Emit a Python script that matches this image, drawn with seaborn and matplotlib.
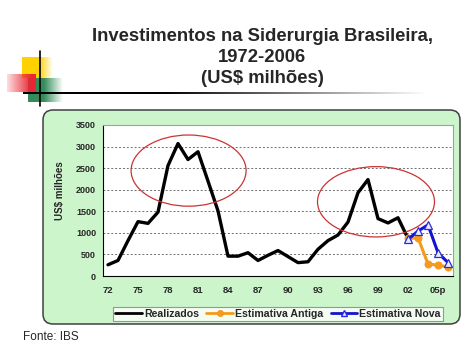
import matplotlib
matplotlib.use("Agg")
import matplotlib.pyplot as plt
import seaborn as sns
import pandas as pd
import numpy as np
from matplotlib.patches import Ellipse, FancyBboxPatch
from matplotlib.lines import Line2D

# categories (years 1972-2006), labels as printed on the slide
anos = ["72", "73", "74", "75", "76", "77", "78", "79", "80", "81", "82",
        "83", "84", "85", "86", "87", "88", "89", "90", "91", "92", "93",
        "94", "95", "96", "97", "98", "99", "00", "01", "02", "03", "04",
        "05p", "06p"]

# investimentos realizados 1972-2002 (US$ milhoes)
realizados = [260, 360, 820, 1260, 1220, 1480, 2560, 3070, 2700, 2880, 2200,
              1510, 460, 460, 540, 360, 480, 590, 450, 310, 330, 620,
              820, 950, 1250, 1930, 2235, 1330, 1230, 1350, 870]

# estimativas 2002-2006
anos_est = ["02", "03", "04", "05p", "06p"]
estimativa_antiga = [870, 885, 280, 250, 210]
estimativa_nova = [850, 1040, 1185, 540, 310]

sns.set_style("white")
plt.rcParams["font.family"] = ["Liberation Sans", "DejaVu Sans"]

idx = {a: i for i, a in enumerate(anos)}
df_real = pd.DataFrame({"x": [idx[a] for a in anos[:len(realizados)]],
                        "valor": realizados})
df_ant = pd.DataFrame({"x": [idx[a] for a in anos_est], "valor": estimativa_antiga})
df_nova = pd.DataFrame({"x": [idx[a] for a in anos_est], "valor": estimativa_nova})

fig = plt.figure(figsize=(4.74, 3.55), dpi=100)

# slide background: decorations + green chart box (pixel coords)
bg = fig.add_axes([0, 0, 1, 1])
bg.set_xlim(0, 474)
bg.set_ylim(355, 0)
bg.axis("off")


def gradient_block(ax, x0, x1, y0, y1, rgb, fade_from=0.6, reverse=False):
    n = 100
    t = np.linspace(0, 1, n)
    if reverse:
        alpha = np.clip(0.15 + t, 0, 1)
    else:
        alpha = np.clip((1 - t) / (1 - fade_from), 0, 1)
    img = np.zeros((1, n, 4))
    img[..., 0], img[..., 1], img[..., 2] = rgb
    img[0, :, 3] = alpha
    ax.imshow(img, extent=(x0, x1, y1, y0), aspect="auto", interpolation="bilinear", zorder=2)


gradient_block(bg, 22, 53, 57, 78, (1.0, 0.82, 0.0), fade_from=0.55)
gradient_block(bg, 28, 63, 78, 102, (0.2, 0.55, 0.35), fade_from=0.45)
gradient_block(bg, 7, 36, 74, 92, (0.92, 0.15, 0.2), reverse=True)
bg.plot([40, 40], [51, 106], color="black", lw=1.2, zorder=3)
gradient_block(bg, 23, 430, 92.3, 94.3, (0.0, 0.0, 0.0), fade_from=0.35)

box = FancyBboxPatch((43, 110), 417, 214, boxstyle="round,pad=0,rounding_size=10",
                     fc="#ccf5cc", ec="#404040", lw=1.1, zorder=1)
bg.add_patch(box)

# main chart
ax = fig.add_axes([103 / 474, 1 - 276 / 355, 350 / 474, 151 / 355])
ax.set_facecolor("white")

sns.lineplot(data=df_real, x="x", y="valor", ax=ax, color="black", lw=2.4,
             solid_joinstyle="round", solid_capstyle="round", zorder=4)
sns.lineplot(data=df_ant, x="x", y="valor", ax=ax, color="#f59a1a", lw=2.2,
             marker="o", markersize=5, markeredgecolor="#f59a1a", zorder=5)
sns.lineplot(data=df_nova, x="x", y="valor", ax=ax, color="#1414cc", lw=2.2,
             marker="^", markersize=6, markerfacecolor="#e8eeff",
             markeredgecolor="#2a2ae0", markeredgewidth=0.9, zorder=6)

ax.set_xlim(-0.5, len(anos) - 0.5)
ax.set_ylim(0, 3500)
ax.set_yticks(np.arange(0, 3501, 500))
ax.set_xticks(range(0, len(anos), 3))
ax.set_xticklabels(anos[::3])
ax.set_xticks(np.arange(-0.5, len(anos), 1), minor=True)
ax.tick_params(axis="x", which="major", length=0, pad=7, labelsize=6.8)
ax.tick_params(axis="x", which="minor", length=3, width=0.6, direction="out", color="black")
ax.tick_params(axis="y", length=3, width=0.6, direction="out", color="black", pad=2, labelsize=6.5)
for lab in ax.get_xticklabels() + ax.get_yticklabels():
    lab.set_fontweight("bold")

ax.grid(axis="y", color="#707070", ls=(0, (2, 2)), lw=0.7)
ax.set_axisbelow(True)
ax.set_xlabel("")
ax.set_ylabel("")
for side in ["top", "right"]:
    ax.spines[side].set_color("#a0a0a0")
    ax.spines[side].set_linewidth(0.8)
for side in ["left", "bottom"]:
    ax.spines[side].set_color("black")
    ax.spines[side].set_linewidth(0.8)

# red highlight ellipses
for cx, cy, w, h in [(8.06, 2443, 11.5, 1650), (26.8, 1720, 11.7, 1630)]:
    ax.add_patch(Ellipse((cx, cy), w, h, fill=False, ec="#cc3333", lw=0.9,
                         clip_on=False, zorder=7))

fig.text(60 / 474, 1 - 220 / 355, "US$ milhões", rotation=90, ha="center",
         va="bottom", fontsize=7, fontweight="bold")

handles = [
    Line2D([], [], color="black", lw=2),
    Line2D([], [], color="#f59a1a", lw=2, marker="o", markersize=4),
    Line2D([], [], color="#1414cc", lw=2, marker="^", markersize=5,
           markerfacecolor="#e8eeff", markeredgecolor="#2a2ae0"),
]
leg = fig.legend(handles, ["Realizados", "Estimativa Antiga", "Estimativa Nova"],
                 loc="center", bbox_to_anchor=(278 / 474, 1 - 314 / 355), ncol=3,
                 prop={"weight": "bold", "size": 7.6}, frameon=True,
                 fancybox=False, edgecolor="#808080", borderpad=0.2,
                 handlelength=2.5, handletextpad=0.2, columnspacing=0.7)
leg.get_frame().set_linewidth(0.8)

fig.text(262 / 474, 1 - 57.5 / 355,
         "Investimentos na Siderurgia Brasileira,\n1972-2006\n(US$ milhões)",
         ha="center", va="center", fontsize=13.3, fontweight="bold", linespacing=1.3)
fig.text(23 / 474, 1 - 337 / 355, "Fonte: IBS", ha="left", va="center", fontsize=8.5)

fig.savefig("out.png", dpi=100)
